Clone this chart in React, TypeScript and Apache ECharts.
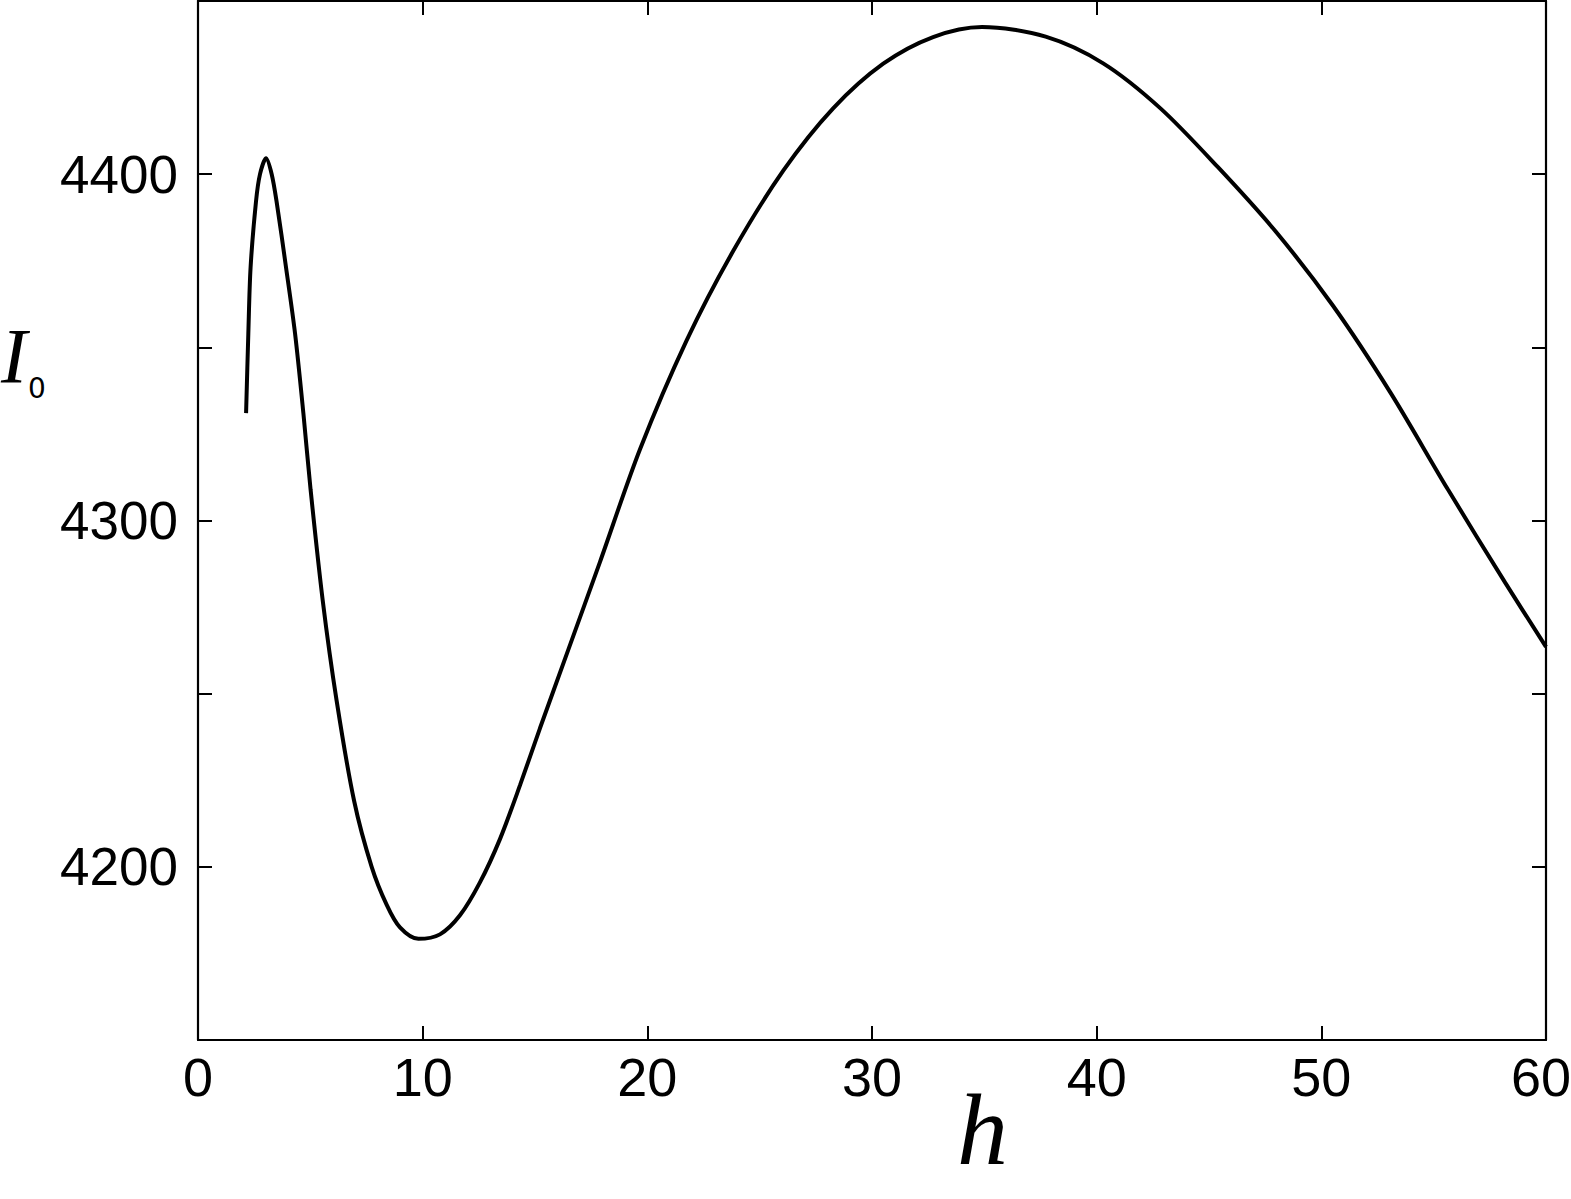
import React, { useEffect, useRef } from "react";
import * as echarts from "echarts";

const hValues = [
  2.14, 2.24, 2.34, 2.58, 2.76, 3.03, 3.28, 3.5, 3.92, 4.32, 4.69, 5.01, 5.55,
  6.17, 6.95, 7.73, 8.4, 8.99, 9.81, 10.77, 11.66, 12.55, 13.44, 14.33, 15.22,
  16.5, 17.89, 19.67, 21.75, 23.82, 26.05, 28.27, 30.5, 32.72, 34.9, 37.73,
  40.29, 42.84, 45.4, 47.96, 50.52, 53.07, 55.63, 58.19, 60,
];
const i0Values = [
  4331, 4354, 4373, 4392, 4400, 4404.6, 4400, 4392, 4373, 4354, 4331, 4309,
  4277, 4248, 4219, 4200, 4189, 4182.5, 4179.2, 4180.5, 4186, 4195.5, 4208,
  4223.5, 4240, 4263, 4288, 4320.5, 4352, 4377.8, 4401, 4419, 4431.9, 4439.6,
  4442.5, 4439.7, 4432, 4419, 4402, 4383.5, 4362, 4337, 4309, 4282, 4263.5,
];
const yLabelValues = [4200, 4300, 4400];
const lastXLabel = "60";
const xTicks = { min: 0, max: 60, interval: 10 };
const yTicks = { min: 4150, max: 4450, interval: 50 };

export default function App() {
  const ref = useRef<HTMLDivElement>(null);
  useEffect(() => {
    if (!ref.current) return;
    const chart = echarts.init(ref.current, undefined, { renderer: "svg" });
    const axisLine = { show: true, onZero: false, lineStyle: { color: "#000", width: 2.2 } };
    const axisTick = { show: true, inside: true, length: 14, lineStyle: { color: "#000", width: 2 } };
    const labelFont = "Liberation Sans, Arial, sans-serif";
    chart.setOption({
      animation: false,
      backgroundColor: "#fff",
      grid: {
        left: 198,
        right: 25,
        top: 1,
        bottom: 159,
        containLabel: false,
        outerBoundsMode: "none",
      },
      xAxis: [
        {
          type: "value",
          ...xTicks,
          axisLine,
          axisTick,
          splitLine: { show: false },
          axisLabel: {
            color: "#000",
            fontFamily: labelFont,
            fontSize: 54,
            margin: 10,
            showMaxLabel: false,
            formatter: (v: number) => (v === xTicks.max ? "" : String(v)),
          },
        },
        {
          type: "value",
          position: "top",
          ...xTicks,
          axisLine,
          axisTick,
          splitLine: { show: false },
          axisLabel: { show: false },
        },
      ],
      yAxis: [
        {
          type: "value",
          ...yTicks,
          axisLine,
          axisTick,
          splitLine: { show: false },
          axisLabel: {
            color: "#000",
            fontFamily: labelFont,
            fontSize: 53,
            margin: 20,
            formatter: (v: number) => (yLabelValues.includes(v) ? String(v) : ""),
          },
        },
        {
          type: "value",
          position: "right",
          ...yTicks,
          axisLine,
          axisTick,
          splitLine: { show: false },
          axisLabel: { show: false },
        },
      ],
      graphic: [
        {
          type: "text",
          left: 1511,
          top: 1050,
          style: {
            text: lastXLabel,
            fontFamily: labelFont,
            fontSize: 54,
            fill: "#000",
          },
        },
        {
          type: "text",
          left: 957,
          top: 1078,
          style: {
            text: "h",
            fontFamily: "Liberation Serif, Times New Roman, serif",
            fontStyle: "italic",
            fontSize: 102,
            fill: "#000",
          },
        },
        {
          type: "text",
          left: 1,
          top: 316,
          style: {
            text: "I",
            fontFamily: "Liberation Serif, Times New Roman, serif",
            fontStyle: "italic",
            fontSize: 78,
            fill: "#000",
          },
        },
        {
          type: "text",
          left: 28,
          top: 374,
          style: {
            text: "0",
            fontFamily: "DejaVu Sans, sans-serif",
            fontSize: 28,
            fill: "#000",
          },
        },
      ],
      series: [
        {
          type: "line",
          xAxisIndex: 0,
          yAxisIndex: 0,
          data: hValues.map((h, i) => [h, i0Values[i]]),
          smooth: 0.3,
          symbol: "none",
          lineStyle: { color: "#000", width: 4 },
        },
      ],
    });
    return () => chart.dispose();
  }, []);
  return (
    <div
      ref={ref}
      style={{ position: "fixed", left: 0, top: 0, width: 1571, height: 1199, background: "#fff" }}
    />
  );
}
